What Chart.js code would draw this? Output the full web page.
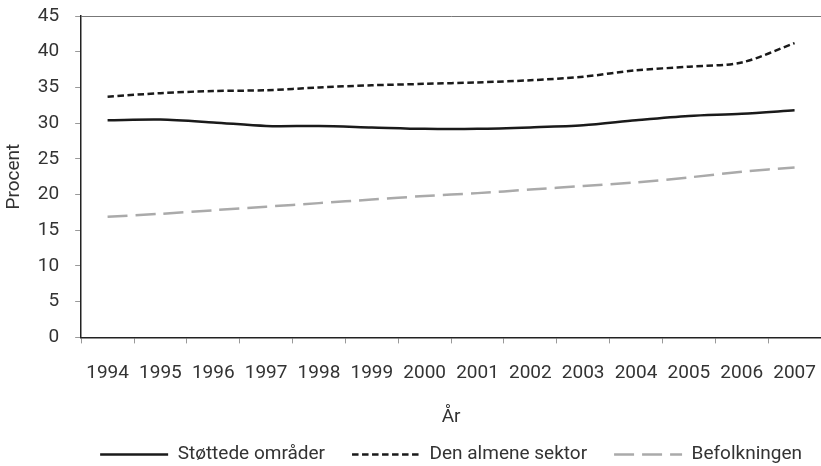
<!DOCTYPE html>
<html lang="da">
<head>
    <meta charset="UTF-8">
    <title>Procent efter år</title>
    <script src="https://cdn.jsdelivr.net/npm/chart.js"></script>
    <style>
        html, body { margin: 0; padding: 0; background: #fff; }
        #wrap { width: 821px; height: 466px; }
    </style>
</head>
<body>
    <div id="wrap"><canvas id="chart"></canvas></div>

    <script>
        const years = ['1994', '1995', '1996', '1997', '1998', '1999', '2000',
                       '2001', '2002', '2003', '2004', '2005', '2006', '2007'];
        const stoettede = [30.4, 30.5, 30.1, 29.6, 29.6, 29.4, 29.2, 29.2, 29.4, 29.7, 30.4, 31.0, 31.3, 31.8];
        const almene = [33.7, 34.2, 34.5, 34.6, 35.0, 35.3, 35.5, 35.7, 36.0, 36.5, 37.4, 37.9, 38.5, 41.2];
        const befolkningen = [16.9, 17.3, 17.8, 18.3, 18.8, 19.3, 19.8, 20.2, 20.7, 21.2, 21.7, 22.4, 23.2, 23.8];

        const font = { family: 'Roboto', size: 19 };
        const textColor = '#333';

        // legend: take the dash pattern and width from the dataset, not the point style
        function legendLabels(chart) {
            const items = Chart.defaults.plugins.legend.labels.generateLabels(chart);
            items.forEach(item => {
                const ds = chart.data.datasets[item.datasetIndex];
                item.lineDash = ds.borderDash || [];
                item.lineWidth = ds.borderWidth;
                item.strokeStyle = ds.borderColor;
                item.pointStyle = 'line';
            });
            return items;
        }

        // slide the legend so it is centered under the plot area, not the canvas
        const legendUnderPlot = {
            id: 'legendUnderPlot',
            afterLayout(chart) {
                const lg = chart.legend;
                if (!lg) return;
                const shift = (chart.chartArea.left + chart.chartArea.right) / 2 - (lg.left + lg.right) / 2;
                lg.left += shift;
                lg.right += shift;
            }
        };

        const ctx = document.getElementById('chart').getContext('2d');
        new Chart(ctx, {
            type: 'line',
            data: {
                labels: years,
                datasets: [
                    {
                        label: 'Støttede områder',
                        data: stoettede,
                        borderColor: '#1a1a1a',
                        borderWidth: 2.5,
                        pointRadius: 0,
                        tension: 0.3
                    },
                    {
                        label: 'Den almene sektor',
                        data: almene,
                        borderColor: '#1a1a1a',
                        borderWidth: 2.5,
                        borderDash: [6.5, 3.5],
                        pointRadius: 0,
                        tension: 0.3
                    },
                    {
                        label: 'Befolkningen',
                        data: befolkningen,
                        borderColor: '#aaaaaa',
                        borderWidth: 2.5,
                        borderDash: [20, 8],
                        pointRadius: 0,
                        tension: 0.3
                    }
                ]
            },
            plugins: [legendUnderPlot],
            options: {
                responsive: true,
                maintainAspectRatio: false,
                animation: false,
                layout: { padding: { top: 16, right: 0, left: 0, bottom: -8 } },
                plugins: {
                    tooltip: { enabled: false },
                    legend: {
                        position: 'bottom',
                        labels: {
                            usePointStyle: true,
                            pointStyle: 'line',
                            pointStyleWidth: 68,
                            padding: 27,
                            color: textColor,
                            font: font,
                            generateLabels: legendLabels
                        }
                    }
                },
                scales: {
                    x: {
                        offset: true,
                        grid: {
                            offset: true,
                            drawOnChartArea: false,
                            tickLength: 6,
                            tickColor: '#999'
                        },
                        border: { color: '#222', width: 1.5 },
                        ticks: { color: textColor, font: font, padding: 18, maxRotation: 0, autoSkip: false },
                        title: { display: true, text: 'År', color: textColor, font: font, padding: { top: 4, bottom: -11 } },
                        afterFit: s => { s.paddingRight = 0; }
                    },
                    y: {
                        min: 0,
                        max: 45,
                        grid: {
                            color: c => (c.tick && c.tick.value === 45 ? '#777' : 'transparent'),
                            tickColor: '#999',
                            tickLength: 6
                        },
                        border: { color: '#222', width: 1.5 },
                        ticks: { stepSize: 5, color: textColor, font: font, padding: 16 },
                        title: { display: true, text: 'Procent', color: textColor, font: font, padding: { top: 3, bottom: -4 } },
                        afterFit: s => { s.paddingTop = 0; }
                    }
                }
            }
        });
    </script>
</body>
</html>
